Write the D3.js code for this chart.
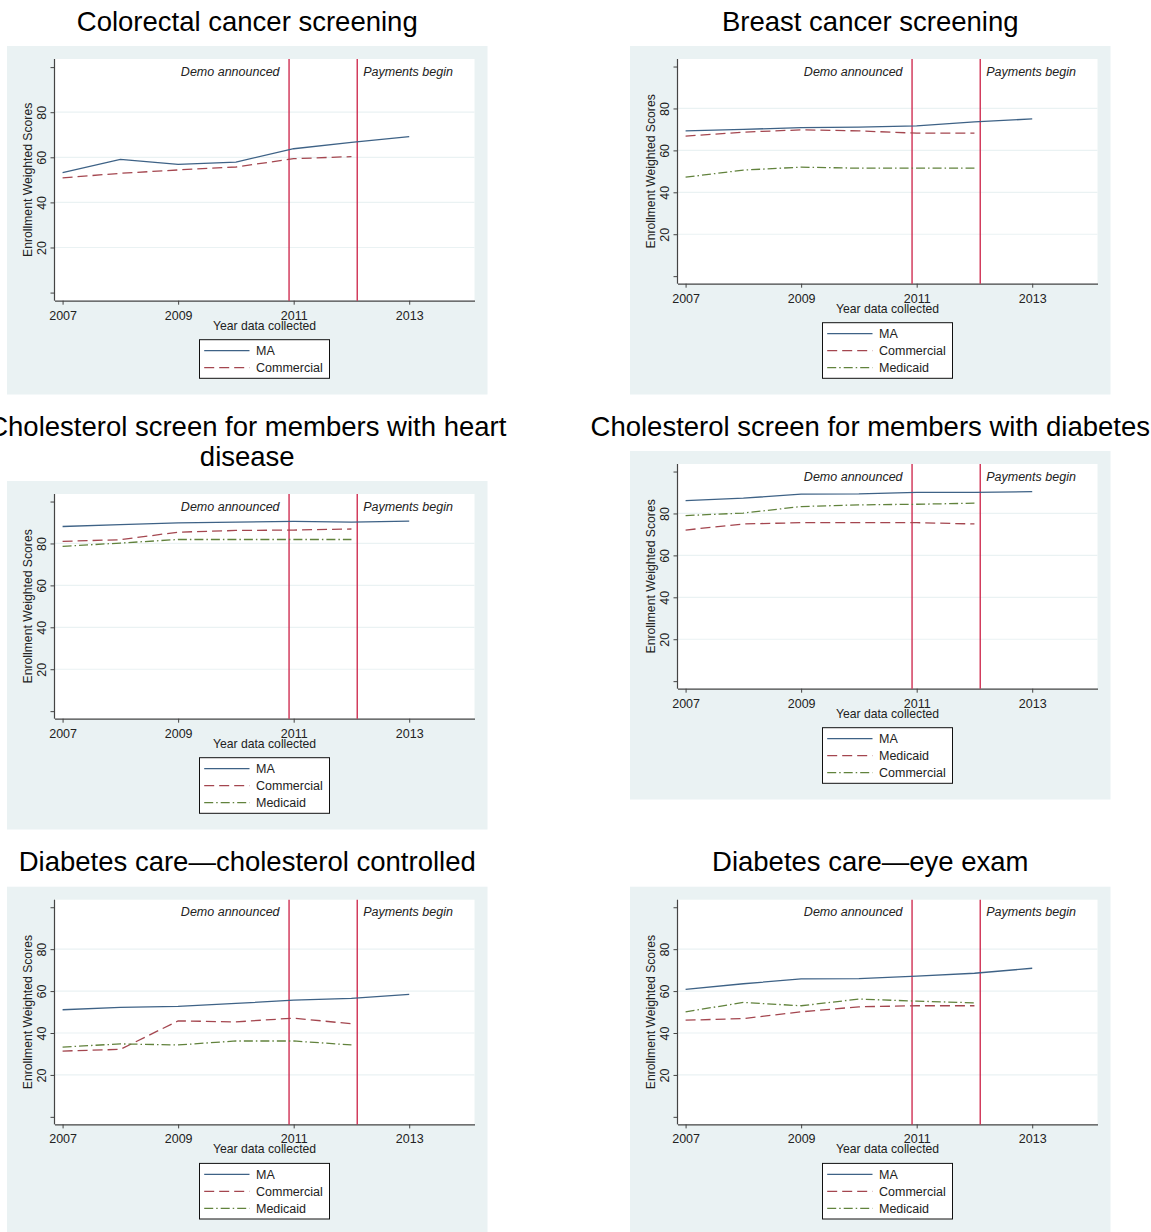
<!DOCTYPE html>
<html>
<head>
<meta charset="utf-8">
<script src="https://cdn.jsdelivr.net/npm/d3@7"></script>
<style>
  body { margin: 0; background: #fff; }
  text { font-family: "Liberation Sans", Arial, sans-serif; }
</style>
</head>
<body>
<script>
/* DATA */
var years = [2007, 2008, 2009, 2010, 2011, 2012, 2013];
var xTicks = [2007, 2009, 2011, 2013];
var yTicks = [0, 20, 40, 60, 80, 100];
var yLabels = [20, 40, 60, 80];
var eventYears = [2010.92, 2012.1];
var eventLabels = ["Demo announced", "Payments begin"];

// Colorectal cancer screening
var colorectalMA = [53.2, 59.1, 56.9, 57.9, 63.8, 66.6, 69.2];
var colorectalCommercial = [50.9, 52.9, 54.4, 55.7, 59.4, 60.3];
// Breast cancer screening
var breastMA = [69.3, 70.0, 70.9, 71.1, 71.7, 73.6, 75.0];
var breastCommercial = [66.8, 68.7, 69.8, 69.3, 68.2, 68.2];
var breastMedicaid = [47.2, 50.6, 52.0, 51.5, 51.5, 51.5];
// Cholesterol screen, heart disease
var heartMA = [88.1, 89.0, 89.8, 90.2, 90.5, 90.2, 90.7];
var heartCommercial = [81.0, 81.8, 85.4, 86.2, 86.4, 86.9];
var heartMedicaid = [78.6, 80.2, 81.9, 81.9, 81.9, 81.9];
// Cholesterol screen, diabetes
var diabScreenMA = [86.1, 87.3, 89.2, 89.3, 90.1, 90.1, 90.4];
var diabScreenMedicaid = [72.1, 75.0, 75.6, 75.6, 75.6, 75.0];
var diabScreenCommercial = [79.0, 80.2, 83.3, 84.1, 84.4, 84.9];
// Diabetes care, cholesterol controlled
var cholCtrlMA = [51.1, 52.2, 52.7, 54.1, 55.7, 56.5, 58.4];
var cholCtrlCommercial = [31.4, 32.2, 45.8, 45.3, 47.1, 44.4];
var cholCtrlMedicaid = [33.3, 34.8, 34.3, 36.2, 36.2, 34.3];
// Diabetes care, eye exam
var eyeMA = [60.8, 63.5, 65.8, 65.9, 67.1, 68.5, 70.9];
var eyeCommercial = [46.1, 46.9, 50.1, 52.5, 53.0, 53.0];
var eyeMedicaid = [50.1, 54.6, 53.0, 56.2, 55.2, 54.4];

/* STYLES (by legend order) */
var lineColors = ["#3e6286", "#a4464f", "#61823c"];
var lineDash = [null, "10,5", "9,3,1.5,3"];

var panels = [
  { title: ["Colorectal cancer screening"], left: 7, top: 46,
    names: ["MA", "Commercial"], values: [colorectalMA, colorectalCommercial] },
  { title: ["Breast cancer screening"], left: 630, top: 46,
    names: ["MA", "Commercial", "Medicaid"], values: [breastMA, breastCommercial, breastMedicaid] },
  { title: ["Cholesterol screen for members with heart", "disease"], left: 7, top: 481,
    names: ["MA", "Commercial", "Medicaid"], values: [heartMA, heartCommercial, heartMedicaid] },
  { title: ["Cholesterol screen for members with diabetes"], left: 630, top: 451,
    names: ["MA", "Medicaid", "Commercial"], values: [diabScreenMA, diabScreenMedicaid, diabScreenCommercial] },
  { title: ["Diabetes care\u2014cholesterol controlled"], left: 7, top: 886.7,
    names: ["MA", "Commercial", "Medicaid"], values: [cholCtrlMA, cholCtrlCommercial, cholCtrlMedicaid] },
  { title: ["Diabetes care\u2014eye exam"], left: 630, top: 886.7,
    names: ["MA", "Commercial", "Medicaid"], values: [eyeMA, eyeCommercial, eyeMedicaid] }
];

var svg = d3.select("body").append("svg")
  .attr("width", 1151)
  .attr("height", 1232);

panels.forEach(drawPanel);

function drawPanel(p) {
  var rows = p.names.length;
  var bgW = 480.5, bgH = 348.5;
  var g = svg.append("g").attr("transform", "translate(" + p.left + "," + p.top + ")");

  // title (sits above the grey box)
  var nT = p.title.length;
  p.title.forEach(function (t, i) {
    svg.append("text")
      .attr("x", p.left + bgW / 2)
      .attr("y", p.top - 15.5 - 30 * (nT - 1 - i))
      .attr("text-anchor", "middle")
      .attr("font-size", 27.5)
      .attr("fill", "#000")
      .text(t);
  });

  g.append("rect")
    .attr("width", bgW).attr("height", bgH)
    .attr("fill", "#eaf2f3");

  var pl = 47.5, pr = 467.5, pt = 13, pb = 254.7 - 17 * (rows - 2);

  var x = d3.scaleLinear().domain([2006.86, 2014.13]).range([pl, pr]);
  var y = d3.scaleLinear().domain([-3.6, 103.6]).range([pb, pt]);

  g.append("rect")
    .attr("x", pl).attr("y", pt)
    .attr("width", pr - pl).attr("height", pb - pt)
    .attr("fill", "#fff");

  // grid
  g.selectAll(".grid").data(yLabels).enter().append("line")
    .attr("x1", pl).attr("x2", pr)
    .attr("y1", function (d) { return y(d); })
    .attr("y2", function (d) { return y(d); })
    .attr("stroke", "#eaf2f3").attr("stroke-width", 1.2);

  // axes
  var ax = g.append("g")
    .attr("transform", "translate(0," + pb + ")")
    .call(d3.axisBottom(x).tickValues(xTicks).tickFormat(d3.format("d")).tickSize(4).tickSizeOuter(0));
  ax.select(".domain").attr("stroke", "#444").attr("stroke-width", 1.2);
  ax.selectAll(".tick line").attr("stroke", "#444");
  ax.selectAll(".tick text")
    .attr("font-size", 12.5).attr("fill", "#222")
    .attr("dy", null).attr("y", 19);

  var ay = g.append("g")
    .attr("transform", "translate(" + pl + ",0)")
    .call(d3.axisLeft(y).tickValues(yTicks).tickSize(4).tickSizeOuter(0)
      .tickFormat(function (d) { return yLabels.indexOf(d) >= 0 ? d : ""; }));
  ay.select(".domain").attr("stroke", "#444").attr("stroke-width", 1.2)
    .attr("d", "M0," + pt + "V" + pb);
  ay.selectAll(".tick line").attr("stroke", "#444");
  ay.selectAll(".tick text")
    .attr("font-size", 12.5).attr("fill", "#222")
    .attr("x", null).attr("dy", null)
    .attr("text-anchor", "middle")
    .attr("transform", "translate(-9,0) rotate(-90)");

  g.append("text")
    .attr("transform", "translate(24.5," + (pt + pb) / 2 + ") rotate(-90)")
    .attr("text-anchor", "middle")
    .attr("font-size", 12.2).attr("fill", "#222")
    .text("Enrollment Weighted Scores");

  g.append("text")
    .attr("x", (pl + pr) / 2).attr("y", pb + 29)
    .attr("text-anchor", "middle")
    .attr("font-size", 12.2).attr("fill", "#222")
    .text("Year data collected");

  // event lines
  g.selectAll(".event").data(eventYears).enter().append("line")
    .attr("x1", function (d) { return x(d); })
    .attr("x2", function (d) { return x(d); })
    .attr("y1", pt).attr("y2", pb)
    .attr("stroke", "#cc1f45").attr("stroke-width", 1.3);

  g.append("text")
    .attr("x", x(eventYears[0]) - 9.5).attr("y", pt + 16.5)
    .attr("text-anchor", "end")
    .attr("font-size", 12.5).attr("font-style", "italic").attr("fill", "#222")
    .text(eventLabels[0]);
  g.append("text")
    .attr("x", x(eventYears[1]) + 6).attr("y", pt + 16.5)
    .attr("font-size", 12.5).attr("font-style", "italic").attr("fill", "#222")
    .text(eventLabels[1]);

  // series
  var line = d3.line()
    .x(function (d, i) { return x(years[i]); })
    .y(function (d) { return y(d); });

  p.values.forEach(function (vals, i) {
    g.append("path")
      .datum(vals)
      .attr("d", line)
      .attr("fill", "none")
      .attr("stroke", lineColors[i])
      .attr("stroke-width", 1.3)
      .attr("stroke-dasharray", lineDash[i]);
  });

  // legend
  var lw = 130, lb = 332.3;
  var lx = (pl + pr) / 2 - lw / 2;
  var ly = lb - 17 * rows - 4.6;
  var leg = g.append("g");
  leg.append("rect")
    .attr("x", lx).attr("y", ly)
    .attr("width", lw).attr("height", lb - ly)
    .attr("fill", "#fff").attr("stroke", "#111").attr("stroke-width", 1);
  p.names.forEach(function (n, i) {
    var ry = lb - 10.6 - 17 * (rows - 1 - i);
    leg.append("line")
      .attr("x1", lx + 4.7).attr("x2", lx + 50)
      .attr("y1", ry).attr("y2", ry)
      .attr("stroke", lineColors[i]).attr("stroke-width", 1.3)
      .attr("stroke-dasharray", lineDash[i]);
    leg.append("text")
      .attr("x", lx + 56.5).attr("y", ry + 4.5)
      .attr("font-size", 12.5).attr("fill", "#222")
      .text(n);
  });
}
</script>
</body>
</html>
